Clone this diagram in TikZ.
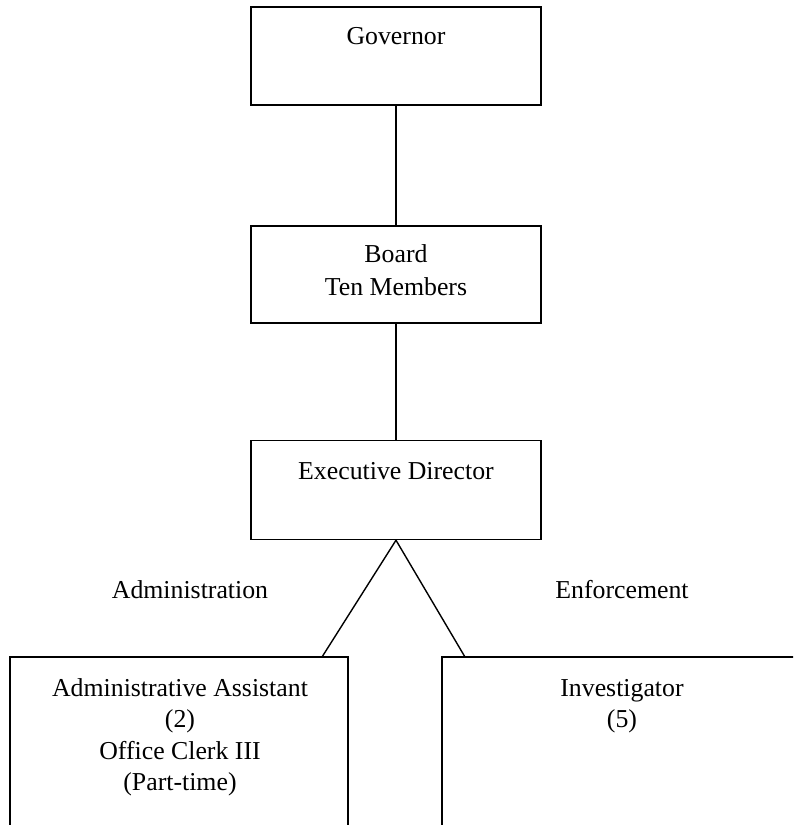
\documentclass[tikz,border=0pt]{standalone}
\usepackage{fontspec}
\setmainfont{Liberation Serif}
\begin{document}
\begin{tikzpicture}[x=1pt,y=-1pt,line width=1.4pt,
  box/.style={draw,inner sep=0pt,minimum width=290pt},
  txt/.style={anchor=base,inner sep=0pt,font=\fontsize{25.8}{31}\selectfont}]
\useasboundingbox (0,0) rectangle (793,825);
\clip (0,0) rectangle (793,825);
% boxes
\node[box,minimum height=98pt] (gov) at (396,56) {};
\node[box,minimum height=97pt] (board) at (396,274.5) {};
\node[box,minimum height=99pt] (exec) at (396,490) {};
\node[draw,inner sep=0pt,minimum width=338pt,minimum height=243pt] (left) at (179,778.5) {};
\node[draw,inner sep=0pt,minimum width=458pt,minimum height=243pt] (right) at (671,778.5) {};
\coordinate (la) at (322,657);
\coordinate (ra) at (465,657);
% connectors
\draw (gov.south) -- (board.north);
\draw (board.south) -- (exec.north);
\draw (exec.south) -- (la);
\draw (exec.south) -- (ra);
% texts
\node[txt] (govt) at (396,44) {Governor};
\node[txt] (bt1) at (396,262.5) {Board};
\node[txt] (bt2) at (396,295) {Ten Members};
\node[txt] (ext) at (396,479) {Executive Director};
\node[txt] (adm) at (190,598) {Administration};
\node[txt] (enf) at (622,598) {Enforcement};
\node[txt] (aa1) at (180,696) {Administrative Assistant};
\node[txt] (aa2) at (180,727.5) {(2)};
\node[txt] (aa3) at (180,759) {Office Clerk III};
\node[txt] (aa4) at (180,790.5) {(Part-time)};
\node[txt] (inv1) at (622,696) {Investigator};
\node[txt] (inv2) at (622,727.5) {(5)};
\end{tikzpicture}
\end{document}
